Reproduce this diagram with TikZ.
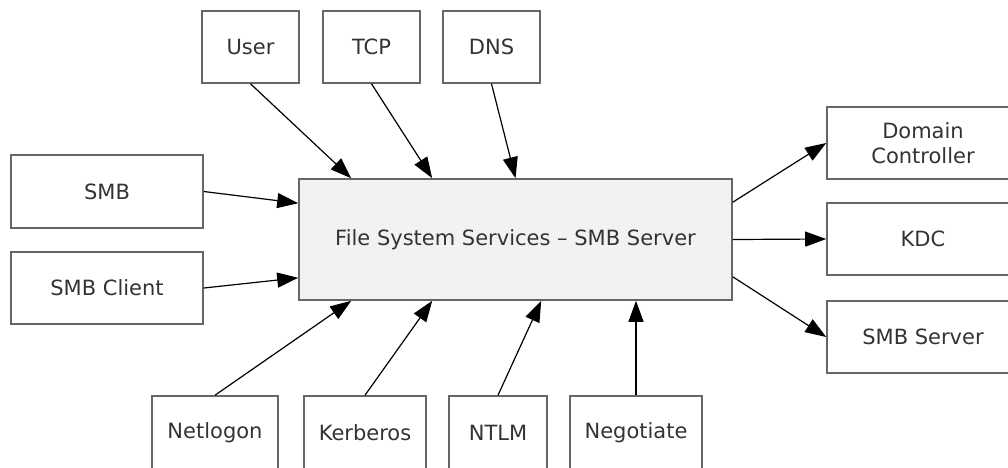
\documentclass[tikz,border=0pt]{standalone}
\usepackage{fontspec}
\setmainfont{DejaVu Sans}
\usetikzlibrary{arrows.meta,calc}
\definecolor{boxline}{HTML}{666666}
\definecolor{txt}{HTML}{333333}
\definecolor{fssfill}{HTML}{F2F2F2}
\begin{document}
\begin{tikzpicture}[x=1pt,y=-1pt,
  box/.style={draw=boxline,line width=1.6pt,rectangle,inner sep=0pt,align=center,
    text=txt,font=\fontsize{21}{25}\selectfont},
  conn/.style={black,line width=1.2pt,-{Triangle[length=21pt,width=15pt]}}]
\useasboundingbox (0,0) rectangle (1008,467);
% top
\node[box,minimum width=97pt,minimum height=72pt] (user) at (250.5,47) {User};
\node[box,minimum width=97pt,minimum height=72pt] (tcp) at (371.5,47) {TCP};
\node[box,minimum width=97pt,minimum height=72pt] (dns) at (491.5,47) {DNS};
% left
\node[box,minimum width=192pt,minimum height=73pt] (smb) at (107,191.5) {SMB};
\node[box,minimum width=192pt,minimum height=72pt] (smbc) at (107,288) {SMB Client};
% center
\node[box,fill=fssfill,minimum width=433pt,minimum height=121pt] (fss) at (515.5,239.5) {File System Services – SMB Server};
% right
\node[box,minimum width=192pt,minimum height=72pt] (dc) at (923,143) {Domain\\Controller};
\node[box,minimum width=192pt,minimum height=72pt] (kdc) at (923,239) {KDC};
\node[box,minimum width=192pt,minimum height=72pt] (srv) at (923,337) {SMB Server};
% bottom
\node[box,minimum width=126pt,minimum height=73pt] (netl) at (215,432.5) {Netlogon};
\node[box,minimum width=122pt,minimum height=73pt] (kerb) at (365,432.5) {Kerberos};
\node[box,minimum width=98pt,minimum height=73pt] (ntlm) at (498,432.5) {NTLM};
\node[box,minimum width=132pt,minimum height=73pt] (nego) at (636,432.5) {Negotiate};
% connectors
\draw[conn] (user.south) -- ([xshift=53pt]fss.north west);
\draw[conn] (tcp.south) -- ([xshift=134pt]fss.north west);
\draw[conn] (dns.south) -- (fss.north);
\draw[conn] (smb.east) -- ([yshift=-25pt]fss.north west);
\draw[conn] (smbc.east) -- ([yshift=23pt]fss.south west);
\draw[conn] (netl.north) -- ([xshift=53pt]fss.south west);
\draw[conn] (kerb.north) -- ([xshift=134pt]fss.south west);
\draw[conn] (ntlm.north) -- ([xshift=243pt]fss.south west);
\draw[conn] (nego.north) -- (nego.north |- fss.south);
\draw[conn] ([yshift=-24pt]fss.north east) -- (dc.west);
\draw[conn] (fss.east) -- (kdc.west);
\draw[conn] ([yshift=24pt]fss.south east) -- (srv.west);
\end{tikzpicture}
\end{document}
